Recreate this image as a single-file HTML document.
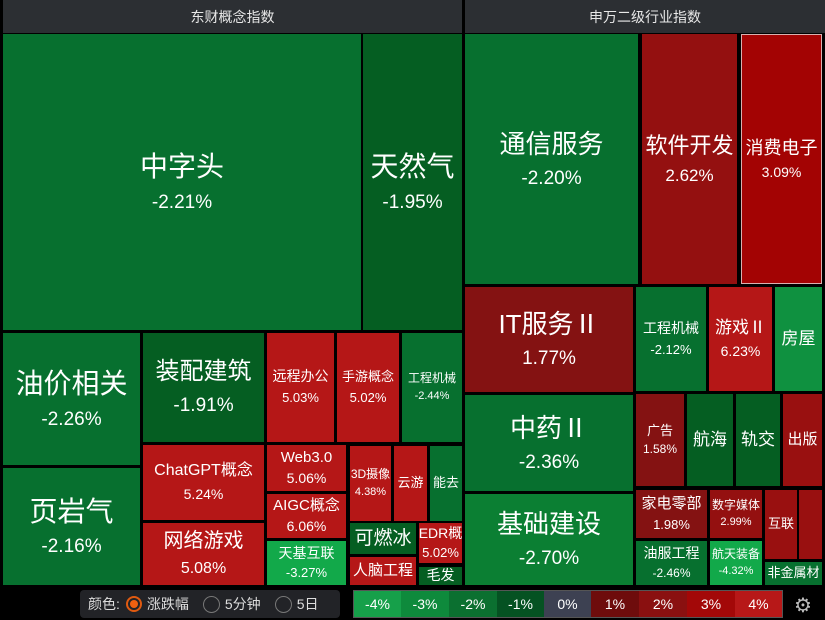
<!DOCTYPE html>
<html><head><meta charset="utf-8"><style>
*{margin:0;padding:0;box-sizing:border-box}
body{width:825px;height:620px;background:#000;position:relative;overflow:hidden;font-family:"Liberation Sans","Noto Sans CJK SC",sans-serif;color:#fff}
.h{position:absolute;top:0;height:33px;background:#2c2f33;color:#e8e8e8;font-size:14px;display:flex;align-items:center;justify-content:center}
.b{position:absolute;display:flex;flex-direction:column;align-items:center;justify-content:center;text-align:center;white-space:nowrap;overflow:hidden;line-height:1.25}
.g{background:#07702f}.dg{background:#055e22}.lg{background:#0f9140}.bg{background:#12a94a}
.r{background:#b51717}.dr{background:#841212}.mr{background:#941010}
.p{margin-top:.35em}
.lc{position:absolute;top:591px;height:26px;display:flex;align-items:center;justify-content:center;font-size:14px}
</style></head><body>
<div class="h" style="left:3px;width:459px">东财概念指数</div>
<div class="h" style="left:465px;width:360px">申万二级行业指数</div>

<div class="b g" style="left:3px;top:34px;width:358px;height:296px;font-size:28px">中字头<span class="p" style="font-size:19px">-2.21%</span></div>
<div class="b dg" style="left:363px;top:34px;width:99px;height:296px;font-size:28px">天然气<span class="p" style="font-size:19px">-1.95%</span></div>
<div class="b g" style="left:3px;top:333px;width:137px;height:132px;font-size:28px">油价相关<span class="p" style="font-size:19px">-2.26%</span></div>
<div class="b g" style="left:3px;top:468px;width:137px;height:117px;font-size:28px">页岩气<span class="p" style="font-size:19px">-2.16%</span></div>
<div class="b dg" style="left:143px;top:333px;width:121px;height:109px;font-size:24px">装配建筑<span class="p" style="font-size:19px">-1.91%</span></div>
<div class="b r" style="left:143px;top:445px;width:121px;height:75px;font-size:16px">ChatGPT概念<span class="p" style="font-size:14px">5.24%</span></div>
<div class="b r" style="left:143px;top:523px;width:121px;height:62px;font-size:20px">网络游戏<span class="p" style="font-size:16px">5.08%</span></div>
<div class="b r" style="left:267px;top:333px;width:67px;height:109px;font-size:14px">远程办公<span class="p" style="font-size:13px">5.03%</span></div>
<div class="b r" style="left:337px;top:333px;width:62px;height:109px;font-size:13px">手游概念<span class="p" style="font-size:13px">5.02%</span></div>
<div class="b g" style="left:402px;top:333px;width:60px;height:109px;font-size:12px">工程机械<span class="p" style="font-size:11px">-2.44%</span></div>
<div class="b r" style="left:267px;top:445px;width:79px;height:46px;font-size:15px">Web3.0<span class="p" style="font-size:14px;margin-top:2px">5.06%</span></div>
<div class="b r" style="left:267px;top:494px;width:79px;height:44px;font-size:15px">AIGC概念<span class="p" style="font-size:14px;margin-top:2px">6.06%</span></div>
<div class="b bg" style="left:267px;top:541px;width:79px;height:44px;font-size:14px">天基互联<span class="p" style="font-size:13px;margin-top:2px">-3.27%</span></div>
<div class="b r" style="left:350px;top:446px;width:41px;height:75px;font-size:12px">3D摄像<span class="p" style="font-size:11px">4.38%</span></div>
<div class="b r" style="left:394px;top:446px;width:33px;height:75px;font-size:13px">云游</div>
<div class="b g" style="left:430px;top:446px;width:32px;height:75px;font-size:13px">能去</div>
<div class="b dg" style="left:350px;top:523px;width:66px;height:31px;font-size:19px">可燃冰</div>
<div class="b r" style="left:350px;top:557px;width:66px;height:28px;font-size:15px">人脑工程</div>
<div class="b r" style="left:419px;top:523px;width:43px;height:40px;font-size:14px">EDR概<span style="font-size:13px;margin-top:2px">5.02%</span></div>
<div class="b dg" style="left:419px;top:567px;width:43px;height:18px;font-size:14px">毛发</div>

<div class="b g" style="left:465px;top:34px;width:173px;height:250px;font-size:26px">通信服务<span class="p" style="font-size:19px">-2.20%</span></div>
<div class="b mr" style="left:642px;top:34px;width:95px;height:250px;font-size:22px">软件开发<span class="p" style="font-size:17px">2.62%</span></div>
<div class="b" style="left:741px;top:34px;width:81px;height:250px;font-size:18px;background:#a30303;border:1px solid #d9b0b0">消费电子<span class="p" style="font-size:14px">3.09%</span></div>
<div class="b dr" style="left:465px;top:287px;width:168px;height:105px;font-size:26px">IT服务Ⅱ<span class="p" style="font-size:19px">1.77%</span></div>
<div class="b g" style="left:465px;top:395px;width:168px;height:96px;font-size:26px">中药Ⅱ<span class="p" style="font-size:19px">-2.36%</span></div>
<div class="b" style="left:465px;top:494px;width:168px;height:91px;font-size:26px;background:#0b7f33">基础建设<span class="p" style="font-size:19px">-2.70%</span></div>
<div class="b g" style="left:636px;top:287px;width:70px;height:104px;font-size:14px">工程机械<span class="p" style="font-size:13px">-2.12%</span></div>
<div class="b r" style="left:709px;top:287px;width:63px;height:104px;font-size:17px">游戏Ⅱ<span class="p" style="font-size:14px">6.23%</span></div>
<div class="b lg" style="left:775px;top:287px;width:47px;height:104px;font-size:17px">房屋</div>
<div class="b dr" style="left:636px;top:394px;width:48px;height:92px;font-size:13px">广告<span style="font-size:12px;margin-top:3px">1.58%</span></div>
<div class="b dg" style="left:687px;top:394px;width:46px;height:92px;font-size:17px">航海</div>
<div class="b dg" style="left:736px;top:394px;width:44px;height:92px;font-size:17px">轨交</div>
<div class="b" style="left:783px;top:394px;width:39px;height:92px;font-size:15px;background:#991010">出版</div>
<div class="b dr" style="left:636px;top:490px;width:71px;height:48px;font-size:15px">家电零部<span style="font-size:13px;margin-top:3px">1.98%</span></div>
<div class="b g" style="left:636px;top:541px;width:71px;height:44px;font-size:14px">油服工程<span style="font-size:12px;margin-top:3px">-2.46%</span></div>
<div class="b mr" style="left:710px;top:490px;width:52px;height:48px;font-size:12px">数字媒体<span style="font-size:11px;margin-top:3px">2.99%</span></div>
<div class="b bg" style="left:710px;top:541px;width:52px;height:44px;font-size:12px">航天装备<span style="font-size:11px;margin-top:3px">-4.32%</span></div>
<div class="b" style="left:765px;top:490px;width:32px;height:69px;font-size:13px;background:#991010">互联</div>
<div class="b" style="left:799px;top:490px;width:23px;height:69px;background:#991010"></div>
<div class="b g" style="left:765px;top:562px;width:57px;height:23px;font-size:13px">非金属材</div>

<div style="position:absolute;left:80px;top:590px;width:260px;height:28px;background:#222327;border-radius:4px;display:flex;align-items:center;font-size:14px;color:#ddd;padding-left:8px">
颜色:<span style="display:inline-block;width:16px;height:16px;border:2px solid #e05a10;border-radius:50%;margin:0 5px 0 6px;position:relative"><span style="position:absolute;left:2px;top:2px;width:8px;height:8px;background:#f06010;border-radius:50%"></span></span>涨跌幅
<span style="display:inline-block;width:17px;height:17px;border:1px solid #777;border-radius:50%;margin:0 5px 0 14px"></span>5分钟
<span style="display:inline-block;width:17px;height:17px;border:1px solid #777;border-radius:50%;margin:0 5px 0 14px"></span>5日</div>
<div style="position:absolute;left:353px;top:590px;width:430px;height:28px;border:1px solid #555"></div>
<div class="lc" style="left:354px;width:47px;background:#16a04a">-4%</div>
<div class="lc" style="left:401px;width:48px;background:#0e8a3c">-3%</div>
<div class="lc" style="left:449px;width:48px;background:#0b7030">-2%</div>
<div class="lc" style="left:497px;width:47px;background:#055222">-1%</div>
<div class="lc" style="left:544px;width:47px;background:#3d4152">0%</div>
<div class="lc" style="left:591px;width:48px;background:#6e0c0c">1%</div>
<div class="lc" style="left:639px;width:48px;background:#8a1010">2%</div>
<div class="lc" style="left:687px;width:48px;background:#a30808">3%</div>
<div class="lc" style="left:735px;width:47px;background:#b71818">4%</div>
<div style="position:absolute;left:794px;top:593px;font-size:20px;color:#bbb">⚙</div>
</body></html>
